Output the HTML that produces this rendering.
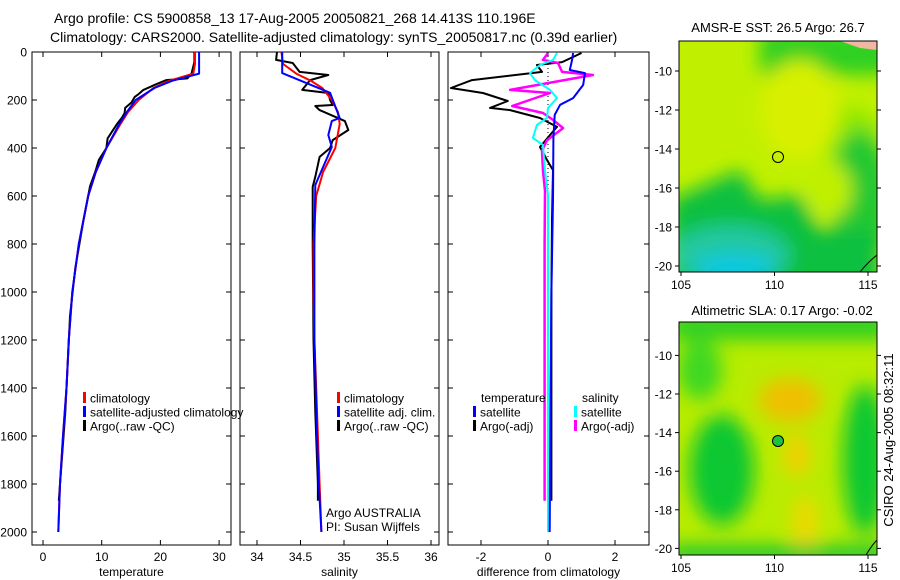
<!DOCTYPE html>
<html><head><meta charset="utf-8"><style>
body{margin:0;background:#fff;}
svg{display:block;font-family:"Liberation Sans",sans-serif;}
</style></head><body>
<svg id="c" width="900" height="580" viewBox="0 0 900 580" xmlns="http://www.w3.org/2000/svg">
<defs>
<filter id="bl" x="-20%" y="-20%" width="140%" height="140%"><feGaussianBlur stdDeviation="9"/></filter>
<clipPath id="cm1"><rect x="679" y="41" width="198" height="231"/></clipPath>
<clipPath id="cm2"><rect x="679" y="322" width="198" height="233"/></clipPath>
</defs>
<text x="54" y="23" font-size="14">Argo profile: CS 5900858_13 17-Aug-2005 20050821_268 14.413S 110.196E</text>
<text x="50" y="42" font-size="14">Climatology: CARS2000. Satellite-adjusted climatology: synTS_20050817.nc (0.39d earlier)</text>
<g id="p1"></g>
<g id="p2"></g>
<g id="p3"></g>

<g>
<text x="778" y="32" font-size="13" text-anchor="middle">AMSR-E SST: 26.5 Argo: 26.7</text>
<g clip-path="url(#cm1)">
<rect x="679" y="41" width="198" height="231" fill="#c0f000"/>
<g filter="url(#bl)">
<rect x="760" y="30" width="130" height="45" fill="#2ed020"/>
<ellipse cx="830" cy="130" rx="50" ry="25" fill="#8ee800"/>
<ellipse cx="860" cy="200" rx="30" ry="70" fill="#20c830"/>
<polygon points="670,200 740,170 760,200 800,195 820,230 880,230 880,290 670,290" fill="#10c040"/>
<ellipse cx="730" cy="255" rx="60" ry="30" fill="#20c8a0"/>
<ellipse cx="735" cy="268" rx="40" ry="15" fill="#10c8e0"/>
<ellipse cx="800" cy="110" rx="40" ry="50" fill="#d8f000"/>
<ellipse cx="830" cy="190" rx="22" ry="28" fill="#c0f000"/>
</g>
<polygon points="840,41 877,41 877,50 860,48" fill="#f0b8a0"/>
<path d="M860,272 Q868,262 877,255" stroke="#000" fill="none"/>
</g>
<rect x="679" y="41" width="198" height="231" fill="none" stroke="#000"/>
<circle cx="778" cy="157" r="5.5" fill="none" stroke="#000"/>
<g id="m1ax"></g>
</g>

<g>
<text x="782" y="315" font-size="13" text-anchor="middle">Altimetric SLA: 0.17 Argo: -0.02</text>
<g clip-path="url(#cm2)">
<rect x="679" y="322" width="198" height="233" fill="#b8ec00"/>
<g filter="url(#bl)">
<rect x="670" y="310" width="220" height="30" fill="#30d020"/>
<ellipse cx="722" cy="470" rx="32" ry="55" fill="#10c830"/>
<ellipse cx="865" cy="460" rx="22" ry="75" fill="#10c830"/>
<ellipse cx="700" cy="370" rx="22" ry="30" fill="#40d820"/>
<ellipse cx="790" cy="400" rx="32" ry="22" fill="#f0c000"/>
<ellipse cx="797" cy="455" rx="14" ry="22" fill="#f0d000"/>
<ellipse cx="805" cy="525" rx="12" ry="30" fill="#f0d800"/>
<rect x="670" y="545" width="220" height="20" fill="#20c830"/>
</g>
<path d="M866,555 Q872,545 877,540" stroke="#000" fill="none"/>
</g>
<rect x="679" y="322" width="198" height="233" fill="none" stroke="#000"/>
<circle cx="778" cy="441" r="5.5" fill="#20c040" stroke="#000"/>
<g id="m2ax"></g>
</g>
<text transform="translate(893,440) rotate(-90)" font-size="13" text-anchor="middle">CSIRO 24-Aug-2005 08:32:11</text>
</svg>
<script>
// ---------- data ----------
const depthTicks=[0,200,400,600,800,1000,1200,1400,1600,1800,2000];
const tempTicks=[0,10,20,30];
const salTicks=[34,34.5,35,35.5,36];
const salTickLabels=["34","34.5","35","35.5","36"];
const diffTicks=[-2,0,2];

const climDepth=[0,50,90,120,150,200,250,300,400,500,600,800,1000,1200,1400,1600,1800,2000];
const climTemp=[25.9,25.9,25.6,21.5,18.8,16.3,14.5,13.2,10.8,9.0,7.7,6.1,5.0,4.4,4.0,3.4,2.9,2.6];
const satTemp=[26.6,26.6,26.6,22.0,19.0,15.8,14.3,13.0,10.8,9.0,7.7,6.1,5.0,4.4,4.0,3.4,2.9,2.6];
const climSal=[34.28,34.30,34.45,34.62,34.75,34.86,34.93,34.95,34.90,34.76,34.68,34.65,34.65,34.66,34.68,34.70,34.72,34.74];

const argoDepth=[0,20,42,60,90,110,117,135,158,175,188,210,233,255,275,300,330,360,400,450,500,560,700,900,1100,1300,1500,1700,1870];
const argoTemp=[25.8,25.8,25.8,25.6,25.3,24.6,21.0,19.2,17.1,16.3,15.6,15.1,14.0,13.9,13.4,12.6,11.8,11.0,10.8,9.5,8.9,8.0,6.9,5.5,4.6,4.2,3.8,3.2,2.7];

const salArgoDepth=[0,33,46,83,96,117,158,171,200,221,225,242,288,325,367,400,437,520,562,800,1200,1500,1800,1870];
const argoSal=[34.23,34.22,34.41,34.49,34.82,34.61,34.52,34.82,34.84,34.87,34.67,34.72,35.01,35.05,34.87,34.84,34.72,34.67,34.64,34.64,34.65,34.67,34.70,34.70];
const satSalDepth=[0,88,170,275,288,346,396,554,800,1200,1600,1800,2000];
const satSal=[34.29,34.29,34.84,34.95,34.86,34.82,34.86,34.67,34.66,34.66,34.69,34.71,34.74];

const dTempArgoDepth=[4,42,54,83,117,150,171,204,233,242,275,312,346,396,450,492,700,1000,1400,1870];
const dTempArgo=[1.0,0.42,-0.33,-0.18,-2.27,-2.9,-1.94,-1.2,-1.73,-1.13,-0.24,0.27,0.06,-0.24,-0.03,0.15,0.12,0.1,0.1,0.1];
const dTempSatDepth=[4,33,75,88,137,192,220,262,358,617,1000,1500,2000];
const dTempSat=[0.75,0.72,0.65,1.1,1.05,0.75,0.36,0.2,0.16,0.15,0.1,0.07,0.05];
const dSalSatDepth=[4,33,54,88,117,158,192,233,275,304,358,387,496,596,1000,1500,2000];
const dSalSat=[0.27,0.15,-0.24,-0.54,-0.39,0.06,0.27,0,-0.03,-0.33,-0.45,-0.15,-0.09,0,0,0,0];
const dSalArgoDepth=[4,33,46,83,96,158,171,225,254,283,317,367,412,496,579,800,1200,1600,1870];
const dSalArgo=[0,-0.15,0.3,0.42,1.34,-1.13,0.06,-1.07,-0.15,0.15,0.45,-0.03,-0.18,-0.15,-0.09,-0.1,-0.1,-0.1,-0.1];

const lonTicks=[105,110,115];
const latTicksTop=[-10,-12,-14,-16,-18,-20];
const latTicksBot=[-10,-12,-14,-16,-18,-20];

// ---------- helpers ----------
const NS="http://www.w3.org/2000/svg";
function mk(parent,tag,attrs){const e=document.createElementNS(NS,tag);for(const k in attrs)e.setAttribute(k,attrs[k]);parent.appendChild(e);return e;}
const Y=d=>52+d*0.24;
const top0=52,bot=545;

function panel(g,left,right,xf,ticks,labels,xlabel,prefix){
  const f=mk(g,'rect',{x:left,y:top0,width:right-left,height:bot-top0,fill:'none',stroke:'#000'});
  
  
  ticks.forEach((t,i)=>{
    const x=xf(t);
    mk(g,'line',{x1:x,y1:bot,x2:x,y2:bot-5,stroke:'#000'});
    mk(g,'line',{x1:x,y1:top0,x2:x,y2:top0+5,stroke:'#000'});
    const tx=mk(g,'text',{x:x,y:561,'font-size':12,'text-anchor':'middle'});
    tx.textContent=labels?labels[i]:String(t);
    
    
  });
  depthTicks.forEach(d=>{
    mk(g,'line',{x1:left,y1:Y(d),x2:left+5,y2:Y(d),stroke:'#000'});
    mk(g,'line',{x1:right,y1:Y(d),x2:right-5,y2:Y(d),stroke:'#000'});
  });
  const xl=mk(g,'text',{x:(left+right)/2,y:576,'font-size':12,'text-anchor':'middle'});
  xl.textContent=xlabel;
  
  
}
function line(g,xf,vals,depths,color,w,name){
  const p=mk(g,'polyline',{points:vals.map((v,i)=>xf(v).toFixed(1)+','+Y(depths[i]).toFixed(1)).join(' '),fill:'none',stroke:color,'stroke-width':w,'stroke-linejoin':'round'});
  
  
}
function legend(g,x,y,color,label,name){
  mk(g,'rect',{x:x,y:y-6,width:3,height:11,fill:color});
  const t=mk(g,'text',{x:x+7,y:y+4.5,'font-size':12});
  t.textContent=label;
  
  
}

// panel 1
const g1=document.getElementById('p1');
const xT=t=>43+t*5.87;
panel(g1,32,231,xT,tempTicks,null,'temperature','temperature');
depthTicks.forEach(d=>{const t=mk(g1,'text',{x:27,y:Y(d)+4.5,'font-size':12,'text-anchor':'end'});t.textContent=String(d);
  
  });
line(g1,xT,argoTemp,argoDepth,'#000',2,'argo-temperature-line');
line(g1,xT,climTemp,climDepth,'#f00',2,'climatology-temperature-line');
line(g1,xT,satTemp,climDepth,'#00f',2,'satellite-temperature-line');
legend(g1,83,398,'#f00','climatology','legend-climatology');
legend(g1,83,412,'#00f','satellite-adjusted climatology','legend-satellite-adjusted');
legend(g1,83,426,'#000','Argo(..raw -QC)','legend-argo');

// panel 2
const g2=document.getElementById('p2');
const xS=s=>257+(s-34)*87;
panel(g2,240,439,xS,salTicks,salTickLabels,'salinity','salinity');
line(g2,xS,argoSal,salArgoDepth,'#000',2,'argo-salinity-line');
line(g2,xS,climSal,climDepth,'#f00',2,'climatology-salinity-line');
line(g2,xS,satSal,satSalDepth,'#00f',2,'satellite-salinity-line');
legend(g2,337,398,'#f00','climatology','legend-sal-climatology');
legend(g2,337,412,'#00f','satellite adj. clim.','legend-sal-satellite');
legend(g2,337,426,'#000','Argo(..raw -QC)','legend-sal-argo');
[['Argo AUSTRALIA',517],['PI: Susan Wijffels',531]].forEach(([s,y])=>{const t=mk(g2,'text',{x:326,y:y,'font-size':12});t.textContent=s;
  
  });

// panel 3
const g3=document.getElementById('p3');
const xD=v=>548+v*33.5;
panel(g3,448,649,xD,diffTicks,null,'difference from climatology','difference');
mk(g3,'line',{x1:xD(0),y1:Y(0),x2:xD(0),y2:Y(2000),stroke:'#000','stroke-dasharray':'1,3'});
line(g3,xD,dTempArgo,dTempArgoDepth,'#000',2,'temp-argo-diff-line');
line(g3,xD,dSalArgo,dSalArgoDepth,'#f0f',2.5,'sal-argo-diff-line');
line(g3,xD,dSalSat,dSalSatDepth,'#0ff',2,'sal-satellite-diff-line');
line(g3,xD,dTempSat,dTempSatDepth,'#00f',2,'temp-satellite-diff-line');
const lt=mk(g3,'text',{x:481,y:402,'font-size':12});lt.textContent='temperature';


const ls=mk(g3,'text',{x:582,y:402,'font-size':12});ls.textContent='salinity';


legend(g3,473,412,'#00f','satellite','legend-temp-satellite');
legend(g3,473,426,'#000','Argo(-adj)','legend-temp-argo');
legend(g3,574,412,'#0ff','satellite','legend-sal-satellite-diff');
legend(g3,574,426,'#f0f','Argo(-adj)','legend-sal-argo-diff');

// map axes
function mapAxes(id,yb,latTicks,latY){
  const g=document.getElementById(id);
  const xL=l=>681+(l-105)*18.7;
  lonTicks.forEach(l=>{mk(g,'line',{x1:xL(l),y1:yb,x2:xL(l),y2:yb+4,stroke:'#000'});
    const t=mk(g,'text',{x:xL(l),y:yb+17,'font-size':12,'text-anchor':'middle'});t.textContent=String(l);
    
    });
  latTicks.forEach(la=>{const y=latY(la);
    mk(g,'line',{x1:675,y1:y,x2:679,y2:y,stroke:'#000'});
    mk(g,'line',{x1:877,y1:y,x2:881,y2:y,stroke:'#000'});
    const t=mk(g,'text',{x:672,y:y+4.5,'font-size':12,'text-anchor':'end'});t.textContent=String(la);
    
    });
}
mapAxes('m1ax',272,latTicksTop,la=>71+(-10-la)*19.5);
mapAxes('m2ax',555,latTicksBot,la=>394+(-12-la)*19.3);
</script>
</body></html>
